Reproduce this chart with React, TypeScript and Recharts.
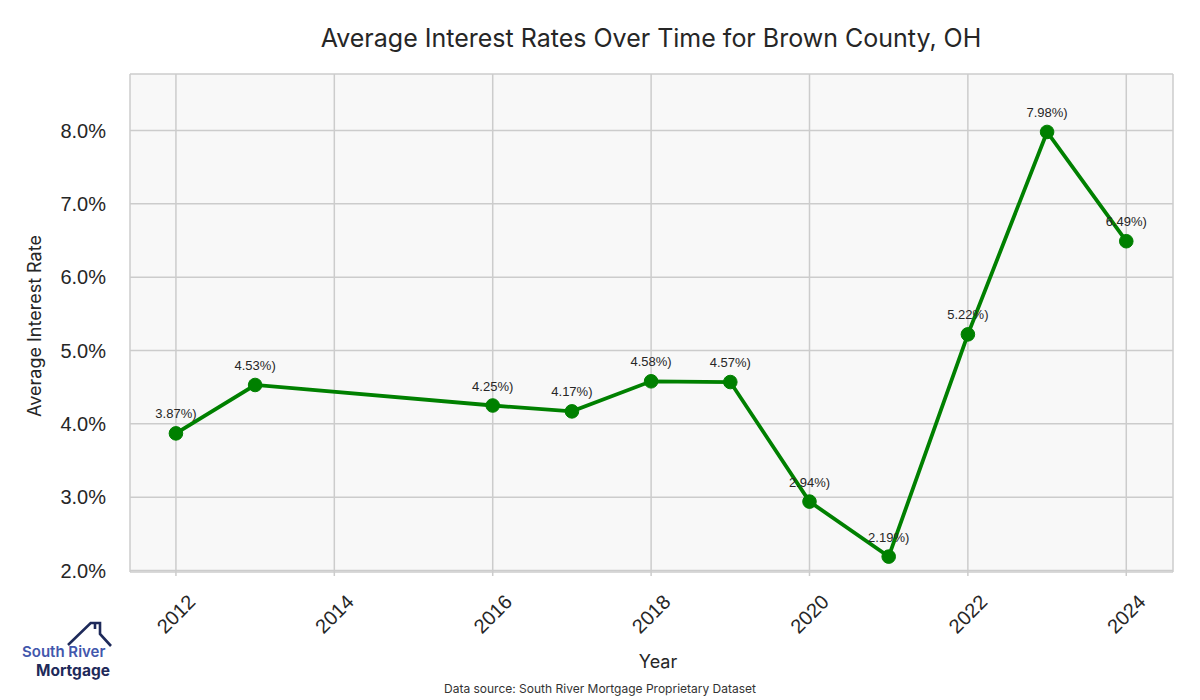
import { LineChart, Line, XAxis, YAxis, CartesianGrid, LabelList } from "recharts";

const years = [2012, 2013, 2016, 2017, 2018, 2019, 2020, 2021, 2022, 2023, 2024];
const rates = [3.87, 4.53, 4.25, 4.17, 4.58, 4.57, 2.94, 2.19, 5.22, 7.98, 6.49];
const xTicks = [2012, 2014, 2016, 2018, 2020, 2022, 2024];
const yTicks = [2, 3, 4, 5, 6, 7, 8];

const data = years.map((year, i) => ({ year, rate: rates[i] }));

const GREEN = "#008000";
const TICK_FONT = "'Liberation Sans', Arial, sans-serif";
const LABEL_FONT = "Inter, 'Open Sans', sans-serif";

const YearTick = (props: any) => {
  const { x, y, payload } = props;
  return (
    <g transform={`translate(${x},${y + 36})`}>
      <text
        transform="rotate(-45)"
        textAnchor="middle"
        dominantBaseline="central"
        fontSize={20}
        fontFamily={TICK_FONT}
        fill="#262626"
      >
        {payload.value}
      </text>
    </g>
  );
};

const RateLabel = (props: any) => {
  const { x, y, value } = props;
  return (
    <text x={x} y={y - 15} textAnchor="middle" fontSize={13} fontFamily={TICK_FONT} fill="#262626">
      {`${Number(value).toFixed(2)}%)`}
    </text>
  );
};

export default function App() {
  return (
    <div style={{ position: "absolute", left: 0, top: 0, width: 1200, height: 700, background: "#fff" }}>
      <LineChart width={1200} height={700} data={data} margin={{ top: 74, right: 27, bottom: 68, left: 50 }}>
        <CartesianGrid stroke="#cccccc" strokeWidth={1.5} fill="#f8f8f8" />
        <XAxis
          dataKey="year"
          type="number"
          domain={[2011.42, 2024.59]}
          ticks={xTicks}
          allowDataOverflow
          height={60}
          axisLine={false}
          tickLine={{ stroke: "#cccccc", strokeWidth: 1.5 }}
          tickSize={4}
          tick={<YearTick />}
          interval={0}
        />
        <YAxis
          type="number"
          domain={[1.98, 8.77]}
          ticks={yTicks}
          allowDataOverflow
          width={80}
          axisLine={false}
          tickLine={false}
          tickMargin={18}
          tickFormatter={(v: number) => `${v.toFixed(1)}%`}
          tick={{ fontSize: 20, fontFamily: TICK_FONT, fill: "#262626" }}
        />
        <Line
          type="linear"
          dataKey="rate"
          stroke={GREEN}
          strokeWidth={3.8}
          dot={{ r: 6.8, fill: GREEN, stroke: GREEN, strokeWidth: 1 }}
          activeDot={false}
          isAnimationActive={false}
        >
          <LabelList dataKey="rate" content={<RateLabel />} />
        </Line>
      </LineChart>
      <svg width={1200} height={700} style={{ position: "absolute", left: 0, top: 0, pointerEvents: "none" }}>
        <text x={651} y={47} textAnchor="middle" fontSize={25} fontFamily={LABEL_FONT} fill="#262626">
          Average Interest Rates Over Time for Brown County, OH
        </text>
        <text
          transform="translate(41,326) rotate(-90)"
          textAnchor="middle"
          fontSize={18}
          fontFamily={LABEL_FONT}
          fill="#262626"
        >
          Average Interest Rate
        </text>
        <text x={658} y={668} textAnchor="middle" fontSize={18} fontFamily={LABEL_FONT} fill="#262626">
          Year
        </text>
        <text x={600} y={693} textAnchor="middle" fontSize={12} fontFamily={LABEL_FONT} fill="#333">
          Data source: South River Mortgage Proprietary Dataset
        </text>
        <g stroke="#1e2a5a" strokeWidth={2.6} fill="none" strokeLinejoin="miter">
          <polyline points="68,645 90.7,623 100,623 100,634 111,646" />
          <line x1={95} y1={623} x2={95} y2={629} />
        </g>
        <text x={22} y={657} fontSize={15} fontWeight={600} fontFamily={LABEL_FONT} fill="#4257ac">
          South River
        </text>
        <text x={36} y={676} fontSize={15.5} fontWeight={700} fontFamily={LABEL_FONT} fill="#1e2a5a">
          Mortgage
        </text>
      </svg>
    </div>
  );
}
